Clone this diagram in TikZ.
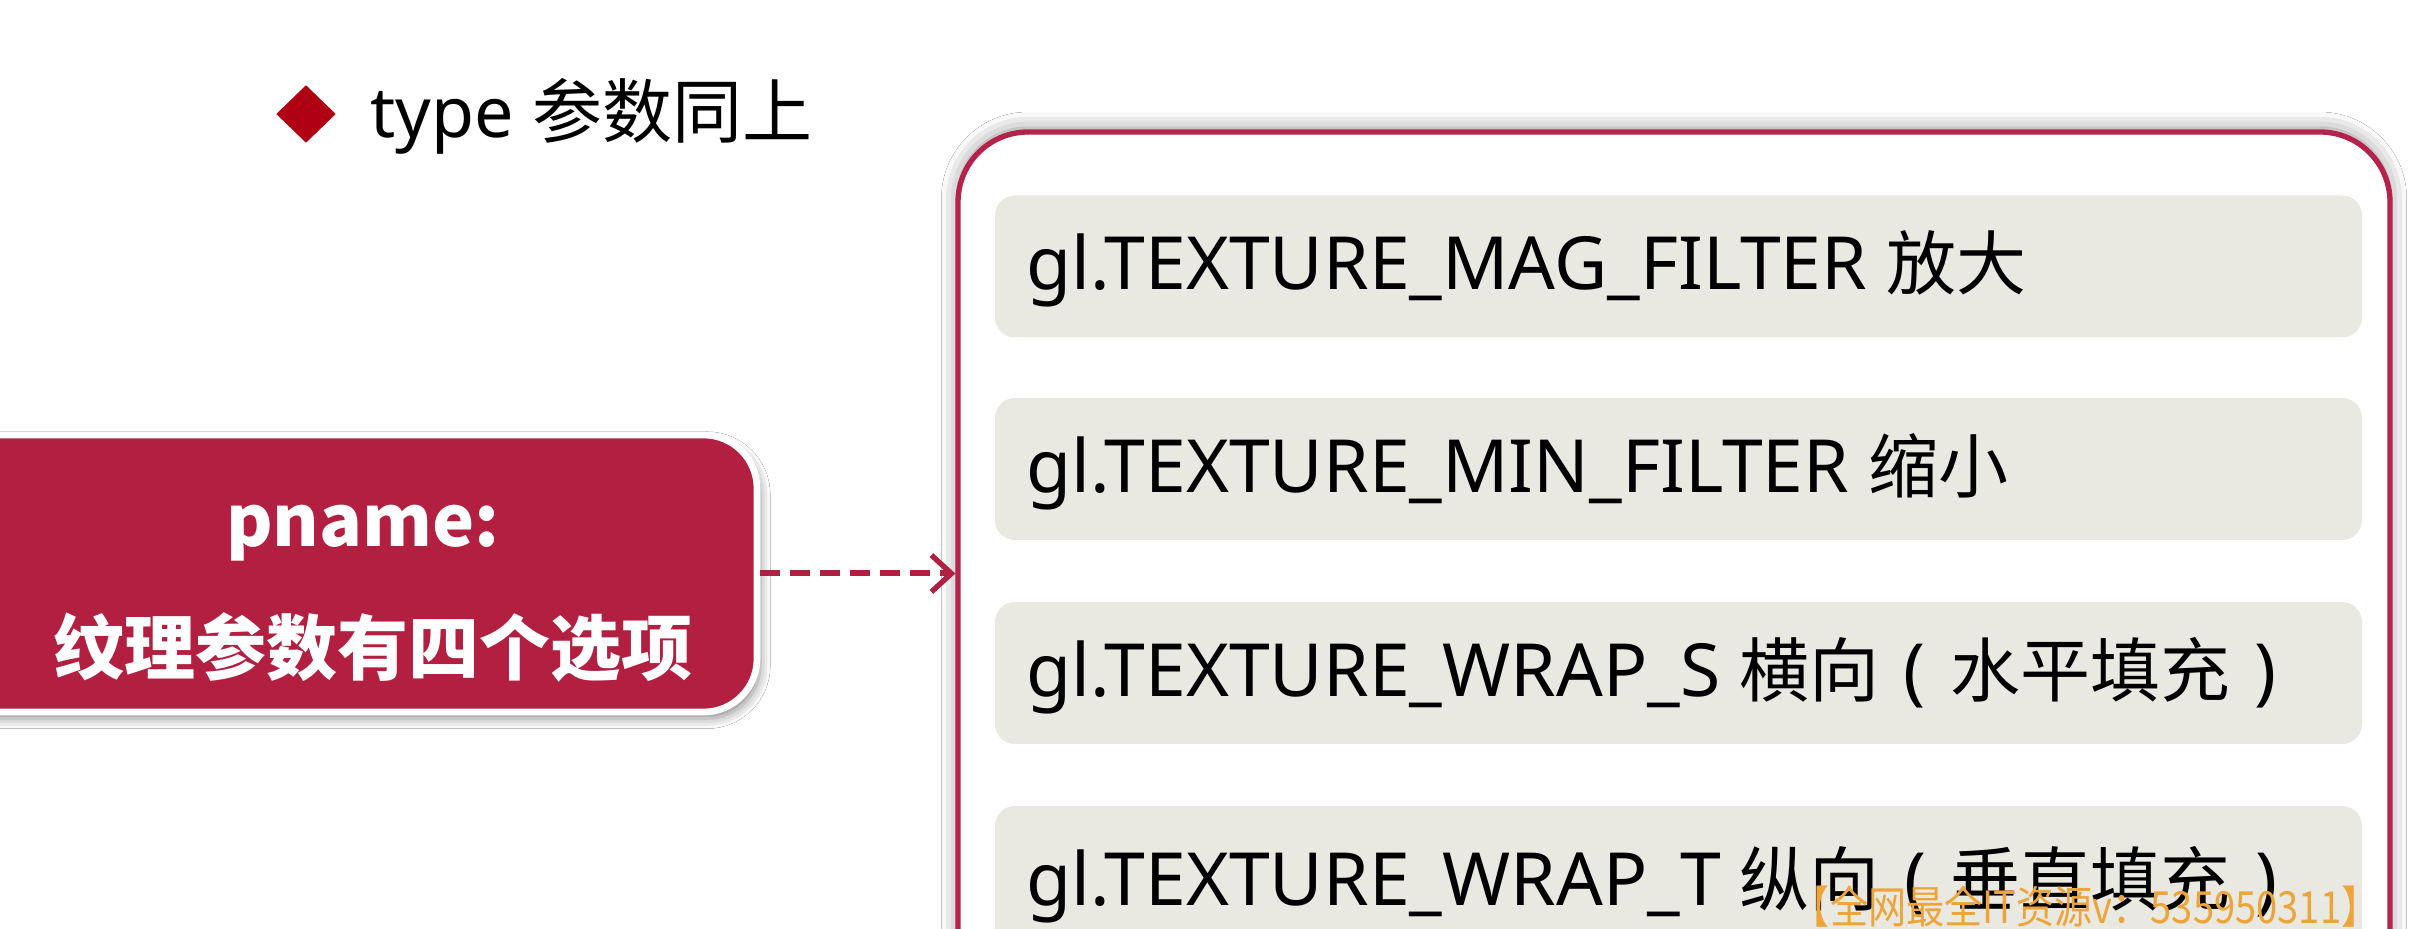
\documentclass[tikz,border=0pt]{standalone}
\usepackage{fontspec}
\setmainfont{Noto Sans}
\newfontfamily\cjk{Noto Sans CJK SC}
\newfontfamily\wmfont{Noto Sans CJK SC}[FakeStretch=0.86]
\usetikzlibrary{shapes.geometric,arrows.meta,shadows.blur}
\definecolor{crimson}{HTML}{B21F41}
\definecolor{framered}{HTML}{B5224A}
\definecolor{itemgray}{HTML}{E9E9E1}
\definecolor{diamondred}{HTML}{B00014}
\definecolor{wmorange}{HTML}{EDA43A}
\newcommand{\cj}[1]{{\cjk\fontsize{21pt}{25pt}\selectfont #1}}
\newcommand{\pg}{\hspace{1.6pt}}
\begin{document}
\begin{tikzpicture}[x=0.3pt,y=-0.3pt,
  bullet/.style={diamond, fill=diamondred, minimum width=18pt, minimum height=17.4pt, inner sep=0pt},
  titletext/.style={anchor=base west, inner sep=0pt, font=\fontsize{21pt}{25pt}\selectfont},
  framebox/.style={draw=framered, line width=1.6pt, rounded corners=21pt, fill=white,
    minimum width=429.6pt, minimum height=275.4pt, inner sep=0pt,
    blur shadow={shadow xshift=0pt, shadow yshift=1pt, shadow blur radius=5pt, shadow opacity=45}},
  itembox/.style={fill=itemgray, rounded corners=6pt, minimum width=410.1pt, minimum height=42.6pt, inner sep=0pt},
  itemtext/.style={anchor=base west, inner sep=0pt, font=\fontsize{22pt}{26pt}\selectfont},
  pbox/.style={fill=crimson, draw=white, line width=2pt, rounded corners=16pt,
    minimum width=251.1pt, minimum height=83.1pt, inner sep=0pt,
    blur shadow={shadow xshift=1pt, shadow yshift=-2pt, shadow blur radius=3pt, shadow opacity=45}},
  ptext/.style={anchor=base, inner sep=0pt, text=white, font=\cjk\bfseries\fontsize{21.3pt}{25pt}\selectfont},
  conn/.style={draw=crimson, line width=1.8pt, dash pattern=on 6pt off 3pt,
    -{Straight Barb[length=6pt,width=11pt,line width=1.6pt]}},
  wmtext/.style={anchor=south east, inner sep=0pt, text=wmorange, font=\wmfont\fontsize{13.3pt}{15pt}\selectfont}
]
\useasboundingbox (0,0) rectangle (2418,929);
\clip (0,0) rectangle (2418,929);
\fill[white] (0,0) rectangle (2418,929);

% title
\node[bullet] (bul) at (306,114) {};
\node[titletext] (title) at (370,138) {type {\cjk 参数同上}};

% big frame
\node[framebox] (frame) at (1674,591) {};

% items
\node[itembox] (it1) at (1678.5,266.5) {};
\node[itembox] (it2) at (1678.5,469) {};
\node[itembox] (it3) at (1678.5,673) {};
\node[itembox] (it4) at (1678.5,877) {};

\node[itemtext] (t1) at ([xshift=9.3pt,yshift=-7pt]it1.west) {gl.TEXTURE\_MAG\_FILTER \cj{放大}};
\node[itemtext] (t2) at ([xshift=9.3pt,yshift=-7pt]it2.west) {gl.TEXTURE\_MIN\_FILTER \cj{缩小}};
\node[itemtext] (t3) at ([xshift=9.3pt,yshift=-7pt]it3.west) {gl.TEXTURE\_WRAP\_S \cj{横向}\pg{} (\pg{} \cj{水平填充}\pg{} )};
\node[itemtext] (t4) at ([xshift=9.3pt,yshift=-8.5pt]it4.west) {gl.TEXTURE\_WRAP\_T \cj{纵向}\pg{} (\pg{} \cj{垂直填充}\pg{} )};

% pname box
\node[pbox] (pname) at (338.5,573.5) {};
\node[ptext] (pl1) at (363,547) {pname:};
\node[ptext] (pl2) at (373,675) {纹理参数有四个选项};

% arrow
\draw[conn] (pname.east) -- (pname.east -| frame.west);

% watermark
\node[wmtext] (wm) at (2380,928) {【全网最全IT资源v：535950311】};
\end{tikzpicture}
\end{document}
